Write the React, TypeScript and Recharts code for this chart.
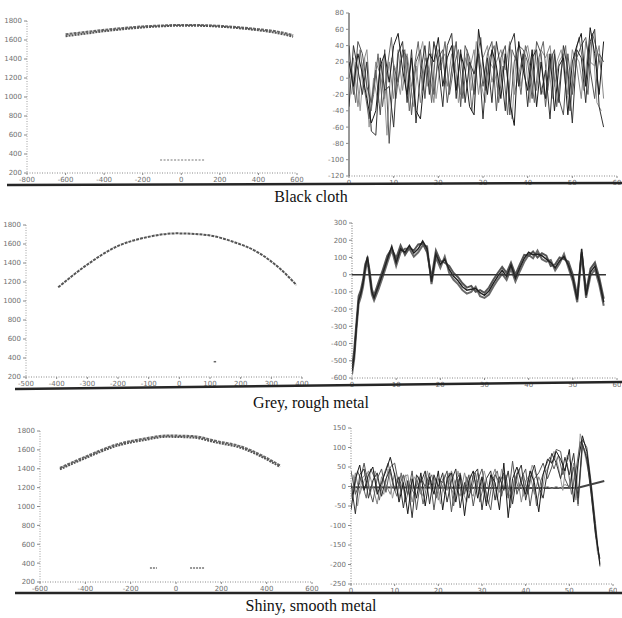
import React from "react";
import { LineChart, Line, XAxis, YAxis } from "recharts";

// ---- Black cloth ----
const clothProfileX = [-600, -500, -400, -300, -200, -100, 0, 100, 200, 300, 400, 500, 580];
const clothProfileUpper = [1660, 1684, 1707, 1727, 1743, 1753, 1759, 1757, 1749, 1734, 1714, 1688, 1652];
const clothProfileLower = [1640, 1666, 1692, 1714, 1732, 1744, 1751, 1749, 1740, 1724, 1702, 1672, 1635];
const clothMirrorX = [-110, -60, 0, 60, 120];
const clothMirrorY = [337, 337, 337, 337, 337];

const stepX = [0, 1, 2, 3, 4, 5, 6, 7, 8, 9, 10, 11, 12, 13, 14, 15, 16, 17, 18, 19, 20, 21, 22, 23, 24, 25, 26, 27, 28, 29, 30, 31, 32, 33, 34, 35, 36, 37, 38, 39, 40, 41, 42, 43, 44, 45, 46, 47, 48, 49, 50, 51, 52, 53, 54, 55, 56, 57];
const halfX = [0.5, 1.5, 2.5, 3.5, 4.5, 5.5, 6.5, 7.5, 8.5, 9.5, 10.5, 11.5, 12.5, 13.5, 14.5, 15.5, 16.5, 17.5, 18.5, 19.5, 20.5, 21.5, 22.5, 23.5, 24.5, 25.5, 26.5, 27.5, 28.5, 29.5, 30.5, 31.5, 32.5, 33.5, 34.5, 35.5, 36.5, 37.5, 38.5, 39.5, 40.5, 41.5, 42.5, 43.5, 44.5, 45.5, 46.5, 47.5, 48.5, 49.5, 50.5, 51.5, 52.5, 53.5, 54.5, 55.5, 56.5];

const clothResA = [20, -10, 30, 5, -25, -55, -40, 15, 30, -5, 40, 55, 10, -20, 25, -40, -50, 10, 30, 20, 50, -10, 25, 40, -15, 30, 10, -35, -45, 60, 20, -20, 35, 15, -25, 30, -30, -58, 45, 10, -15, 35, -35, 20, -25, 30, -40, 15, 25, -45, 20, 40, 55, -10, 62, 30, -20, 45];
const clothResB = [-35, 40, 10, -20, 20, -65, -70, 25, -15, -10, -60, 30, 45, -30, 35, -55, 5, 40, -20, 45, 15, -35, 40, 55, -25, 35, -30, 20, 5, 30, -50, 25, -30, 45, 10, -40, 40, 55, -10, 30, -35, 25, 35, -20, 10, -50, 30, -30, 40, 10, -55, 35, 25, -30, 45, 60, -35, -60];
const clothResC = [40, -20, 45, 30, -10, -30, 10, -45, 35, -80, 15, -5, 35, 25, -45, 20, 35, -25, 45, -20, 25, 35, -30, 10, 45, -35, 40, 25, -20, 35, -10, 30, 45, -40, 25, 40, -45, 20, 40, 35, 20, -25, 45, 30, -35, 20, 35, -25, -45, 30, -20, 25, 40, 50, 10, -25, 30, 20];
const clothResD = [0, 25, -35, 15, 35, -40, 20, 5, -25, 20, -25, 35, -15, 30, -10, 15, -30, 25, 10, -30, 35, 20, -10, 30, 5, -20, 25, 10, 35, -20, 25, 40, -5, 20, 35, 10, 45, -20, 5, 30, 40, 10, -15, 35, 25, 40, -10, 20, 30, -20, 35, 15, -25, 45, 20, 15, 40, -25];
const clothResE = [15, -30, 35, -15, -50, -20, 30, -35, 10, 50, -25, 20, 35, -40, 10, 45, -15, 25, -30, 40, 10, 45, -20, 15, 35, -25, 30, -40, 20, 50, -15, 25, 40, -30, 15, -45, 35, 20, -20, 40, 15, -30, 25, 45, -15, 30, -35, 10, 40, -40, 25, 50, 15, -20, 55, 35, 10];
const clothResF = [-20, 20, -40, 25, -60, 0, -30, 20, -70, 25, 10, -20, 30, 0, -35, 20, 45, -10, 30, -25, 20, 30, -15, 40, -30, 5, 35, -15, 45, -5, -30, 20, 10, -20, 35, 5, -50, 30, -10, 25, -30, 35, 0, -20, 30, -25, 20, 35, -10, -40, 30, 20, -15, 35, 50, -30, -40];

// ---- Grey, rough metal ----
const roughProfileX = [-395, -302, -205, -107, -9, 89, 175, 262, 327, 382];
const roughProfileY = [1144, 1379, 1572, 1671, 1712, 1695, 1624, 1501, 1344, 1168];
const roughMirrorX = [112, 120];
const roughMirrorY = [361, 361];

const roughResX = [0, 0.5, 1, 1.5, 2, 2.5, 3, 3.5, 4, 4.5, 5, 6, 7, 8, 9, 10, 11, 12, 13, 14, 15, 16, 17, 18, 19, 20, 21, 22, 23, 24, 25, 26, 27, 28, 29, 30, 31, 32, 33, 34, 35, 36, 37, 38, 39, 40, 41, 42, 43, 44, 45, 46, 47, 48, 49, 50, 51, 52, 53, 54, 55, 56, 57];
const roughResA = [-560, -470, -300, -150, -110, -50, 40, 105, 0, -100, -135, -65, 10, 90, 165, 70, 150, 130, 170, 125, 150, 195, 150, -40, 120, 60, 90, 30, -10, -35, -70, -90, -85, -80, -105, -120, -95, -50, -10, 25, -10, 55, -20, 40, 95, 130, 115, 120, 110, 90, 70, 40, 80, 105, 55, -20, -145, 150, -120, 15, 50, -40, -160];
const roughResB = [-540, -440, -280, -125, -90, -30, 60, 95, 20, -85, -120, -45, 30, 110, 150, 95, 170, 115, 155, 140, 175, 180, 130, -20, 140, 80, 70, 50, 10, -15, -50, -75, -65, -100, -90, -105, -75, -30, 10, 45, 10, 70, 0, 60, 115, 110, 135, 100, 125, 110, 50, 60, 100, 90, 75, 0, -125, 130, -100, 35, 70, -20, -140];
const roughResC = [-580, -490, -320, -170, -130, -70, 20, 85, -20, -115, -150, -85, -10, 70, 145, 50, 130, 150, 150, 105, 130, 170, 165, -55, 100, 40, 105, 10, -30, -55, -90, -110, -100, -70, -125, -135, -115, -70, -30, 5, -30, 35, -40, 20, 75, 115, 95, 140, 90, 75, 85, 25, 65, 120, 40, -40, -160, 120, -135, -5, 30, -60, -180];
const roughBaseX = [0, 57.5];
const roughBaseY = [0, 0];

// ---- Shiny, smooth metal ----
const shinyProfileX = [-512, -394, -262, -144, -41, 76, 179, 282, 385, 459];
const shinyProfileUpper = [1410, 1534, 1658, 1718, 1752, 1746, 1693, 1640, 1534, 1436];
const shinyProfileLower = [1394, 1518, 1642, 1702, 1738, 1730, 1677, 1624, 1518, 1420];
const shinyMirrorX = [-115, -84, 40, 62, 93, 128];
const shinyMirrorY = [348, 348, null, 348, 348, 348];

const shinyResA = [-60, 20, 55, -10, 30, 50, -20, 10, 40, 75, 30, -40, 10, -70, 20, -30, 35, -50, 25, -20, 40, -60, 20, 35, -40, 30, -75, 15, 40, -30, 25, -50, 30, 10, -60, 60, -80, 20, 50, 10, -20, 40, 10, -65, 30, 70, 60, 90, 70, 40, 95, -40, 60, 130, 90, 0, -110, -200];
const shinyResB = [10, -70, 30, 45, -30, 15, 35, -25, 20, 45, -10, 25, -55, 15, -80, 30, 10, 40, -45, 30, 0, 35, -40, 15, 45, -55, 10, -30, 30, 45, -60, 20, 40, -35, 25, -10, 40, -45, 30, 55, -35, 20, 55, 0, -30, 40, 85, 60, 20, 75, 30, 85, -30, 110, 70, -20, -125, -185];
const shinyResC = [40, -20, 10, 60, 0, -40, 20, 45, -15, 50, 60, 0, 30, -20, 40, -60, 20, 0, 35, -60, 20, 10, 40, -65, 15, 35, -20, 30, -50, 15, 45, -25, -60, 30, 10, 35, -30, 65, -20, 20, 45, -50, 20, 35, 60, 20, 50, 95, 90, 20, -5, 50, -45, 120, 100, 10, -95, -205];
const shinyResD = [-30, 35, -20, 15, 40, 0, -45, 25, 5, -20, 35, -30, 25, 30, -40, 15, -20, 30, 5, 25, -35, 20, -10, 40, 0, -25, 35, -10, -25, 35, 5, -40, 15, 45, -15, 25, 0, -20, 35, -40, 15, 30, -20, 25, -5, 0, -5, 0, -5, 5, 0, 60, -50, 100, 80, -10, -120, -195];
const shinyResE = [-20, 40, 10, -30, 45, 20, -35, 30, 60, 10, -25, 35, -40, 5, -20, 25, -45, 10, 30, -30, 15, -20, 35, -50, 20, -30, 25, -15, 35, -40, 10, -45, 20, 40, -25, 30, -55, 25, -10, 30, -20, 40, -50, 15, 50, 75, 45, 80, 30, 60, -20, 40, 115, 95, 40, -60, -165];
const shinyResF = [30, -50, 20, 35, -15, 40, 5, -20, 45, -30, 20, -10, 30, -35, 25, 5, -25, 40, -15, 20, -45, 30, 10, -20, 40, -10, -40, 30, 15, -20, 40, -5, 25, -35, 45, 5, -30, 20, 45, -25, 10, 55, 25, -30, 35, 60, 90, 50, -10, 80, 55, -35, 135, 85, 30, -70, -175];
const shinyFitX = [0, 45, 52, 58];
const shinyFitY = [-2, -4, -3, 14];

// ---- tick labels ----
const clothProfileXTicks = [-800, -600, -400, -200, 0, 200, 400, 600];
const roughProfileXTicks = [-500, -400, -300, -200, -100, 0, 100, 200, 300, 400];
const shinyProfileXTicks = [-600, -400, -200, 0, 200, 400, 600];
const profileYTicks = [200, 400, 600, 800, 1000, 1200, 1400, 1600, 1800];
const resXTicks = [0, 10, 20, 30, 40, 50, 60];
const clothResYTicks = [-120, -100, -80, -60, -40, -20, 0, 20, 40, 60, 80];
const roughResYTicks = [-600, -500, -400, -300, -200, -100, 0, 100, 200, 300];
const shinyResYTicks = [-250, -200, -150, -100, -50, 0, 50, 100, 150];

const captions = ["Black cloth", "Grey, rough metal", "Shiny, smooth metal"];

const zip = (xs: number[], cols: Record<string, (number | null)[]>) =>
  xs.map((x, i) => {
    const row: Record<string, number | null> = { x };
    for (const k of Object.keys(cols)) row[k] = cols[k][i];
    return row;
  });

const axisTick = { fontSize: 7, fill: "#707070", fontFamily: "DejaVu Sans" };

type PanelProps = {
  left: number;
  top: number;
  width: number;
  height: number;
  yWidth: number;
  right?: number;
  data?: Record<string, number | null>[];
  xDomain: [number, number];
  xTicks: number[];
  yDomain: [number, number];
  yTicks: number[];
  yAxisStroke?: string;
  yAxisDash?: string;
  children: React.ReactNode;
};

function Panel(p: PanelProps) {
  return (
    <div style={{ position: "absolute", left: p.left, top: p.top }}>
      <LineChart width={p.width} height={p.height} data={p.data} margin={{ top: 8, right: p.right ?? 4, bottom: 0, left: 0 }}>
        <XAxis
          type="number"
          dataKey="x"
          domain={p.xDomain}
          ticks={p.xTicks}
          interval={0}
          height={14}
          allowDataOverflow
          axisLine={{ stroke: "#8a8a8a", strokeDasharray: "1 1.5" }}
          tickLine={{ stroke: "#8a8a8a" }}
          tickSize={2}
          tick={axisTick}
        />
        <YAxis
          type="number"
          domain={p.yDomain}
          ticks={p.yTicks}
          interval={0}
          width={p.yWidth}
          allowDataOverflow
          axisLine={{ stroke: p.yAxisStroke ?? "#a0a0a0", strokeDasharray: p.yAxisDash ?? "1 1.5" }}
          tickLine={{ stroke: "#8a8a8a" }}
          tickSize={3}
          tick={axisTick}
        />
        {p.children}
      </LineChart>
    </div>
  );
}

export default function App() {
  const clothProfile = zip(clothProfileX, { up: clothProfileUpper, lo: clothProfileLower });
  const clothMirror = zip(clothMirrorX, { y: clothMirrorY });
  const clothRes = zip(stepX, { a: clothResA, b: clothResB, c: clothResC, d: clothResD });
  const clothResHalf = zip(halfX, { e: clothResE, f: clothResF });
  const roughProfile = zip(roughProfileX, { y: roughProfileY });
  const roughMirror = zip(roughMirrorX, { y: roughMirrorY });
  const roughRes = zip(roughResX, { a: roughResA, b: roughResB, c: roughResC });
  const roughBase = zip(roughBaseX, { y: roughBaseY });
  const shinyProfile = zip(shinyProfileX, { up: shinyProfileUpper, lo: shinyProfileLower });
  const shinyMirror = zip(shinyMirrorX, { y: shinyMirrorY });
  const shinyRes = zip(stepX, { a: shinyResA, b: shinyResB, c: shinyResC, d: shinyResD });
  const shinyResHalf = zip(halfX, { e: shinyResE, f: shinyResF });
  const shinyFit = zip(shinyFitX, { y: shinyFitY });

  const noise = (key: string, color: string, rows?: Record<string, number | null>[], w = 1) => (
    <Line key={key} data={rows} type="linear" dataKey={key} stroke={color} strokeWidth={w} dot={false} isAnimationActive={false} />
  );

  return (
    <div style={{ position: "absolute", left: 0, top: 0, width: 622, height: 618, background: "#fff", overflow: "hidden" }}>
      {/* Black cloth */}
      <Panel left={0} top={13} width={307} height={174} yWidth={27} right={10} xDomain={[-800, 600]} xTicks={clothProfileXTicks} yDomain={[200, 1800]} yTicks={profileYTicks}>
        <Line data={clothProfile} type="monotone" dataKey="up" stroke="#666" strokeWidth={2} strokeDasharray="3 1" dot={false} isAnimationActive={false} />
        <Line data={clothProfile} type="monotone" dataKey="lo" stroke="#555" strokeWidth={2} strokeDasharray="2 1" dot={false} isAnimationActive={false} />
        <Line data={clothMirror} type="linear" dataKey="y" stroke="#777" strokeWidth={1.2} strokeDasharray="2 1.5" dot={false} isAnimationActive={false} />
      </Panel>
      <Panel left={311} top={5} width={310} height={185} yWidth={38} data={clothRes} xDomain={[0, 60]} xTicks={resXTicks} yDomain={[-120, 80]} yTicks={clothResYTicks} yAxisStroke="#333" yAxisDash="0">
        {noise("f", "#999", clothResHalf)}
        {noise("d", "#8a8a8a")}
        {noise("e", "#666", clothResHalf)}
        {noise("c", "#555")}
        {noise("b", "#333")}
        {noise("a", "#1a1a1a")}
      </Panel>

      {/* Grey, rough metal */}
      <Panel left={0} top={217} width={312} height={174} yWidth={26} right={10} xDomain={[-500, 400]} xTicks={roughProfileXTicks} yDomain={[200, 1800]} yTicks={profileYTicks}>
        <Line data={roughProfile} type="monotone" dataKey="y" stroke="#555" strokeWidth={2} strokeDasharray="3 1" dot={false} isAnimationActive={false} />
        <Line data={roughMirror} type="linear" dataKey="y" stroke="#666" strokeWidth={1.5} dot={false} isAnimationActive={false} />
      </Panel>
      <Panel left={311} top={215} width={310} height={177} yWidth={41} data={roughRes} xDomain={[0, 60]} xTicks={resXTicks} yDomain={[-600, 300]} yTicks={roughResYTicks} yAxisStroke="#777">
        {noise("c", "#6a6a6a", undefined, 2)}
        {noise("b", "#555", undefined, 2)}
        {noise("a", "#222", undefined, 1.5)}
        <Line data={roughBase} type="linear" dataKey="y" stroke="#333" strokeWidth={1.5} dot={false} isAnimationActive={false} />
      </Panel>

      {/* Shiny, smooth metal */}
      <Panel left={0} top={423} width={322} height={173} yWidth={40} right={10} xDomain={[-600, 600]} xTicks={shinyProfileXTicks} yDomain={[200, 1800]} yTicks={profileYTicks}>
        <Line data={shinyProfile} type="monotone" dataKey="up" stroke="#666" strokeWidth={2} strokeDasharray="3 1" dot={false} isAnimationActive={false} />
        <Line data={shinyProfile} type="monotone" dataKey="lo" stroke="#555" strokeWidth={2} strokeDasharray="2 1" dot={false} isAnimationActive={false} />
        <Line data={shinyMirror} type="linear" dataKey="y" stroke="#777" strokeWidth={1.5} strokeDasharray="2 1" dot={false} isAnimationActive={false} />
      </Panel>
      <Panel left={311} top={420} width={306} height={178} yWidth={40} data={shinyRes} xDomain={[0, 60]} xTicks={resXTicks} yDomain={[-250, 150]} yTicks={shinyResYTicks} yAxisStroke="#888">
        <Line data={shinyFit} type="linear" dataKey="y" stroke="#444" strokeWidth={2} dot={false} isAnimationActive={false} />
        {noise("f", "#999", shinyResHalf)}
        {noise("d", "#888")}
        {noise("e", "#666", shinyResHalf)}
        {noise("c", "#555")}
        {noise("b", "#333")}
        {noise("a", "#1a1a1a")}
      </Panel>

      <svg width={622} height={618} style={{ position: "absolute", left: 0, top: 0, pointerEvents: "none" }}>
        <line x1={7} y1={185} x2={622} y2={183} stroke="#262626" strokeWidth={2.5} />
        <line x1={15} y1={389} x2={622} y2={382} stroke="#262626" strokeWidth={2.5} />
        <line x1={15} y1={593} x2={622} y2={593} stroke="#262626" strokeWidth={2.5} />
      </svg>

      {captions.map((c, i) => (
        <div
          key={c}
          style={{
            position: "absolute",
            left: 0,
            width: 622,
            top: [188, 394, 597][i],
            textAlign: "center",
            fontFamily: "'Liberation Serif', serif",
            fontSize: 16,
            lineHeight: "18px",
            color: "#111",
          }}
        >
          {c}
        </div>
      ))}
    </div>
  );
}
